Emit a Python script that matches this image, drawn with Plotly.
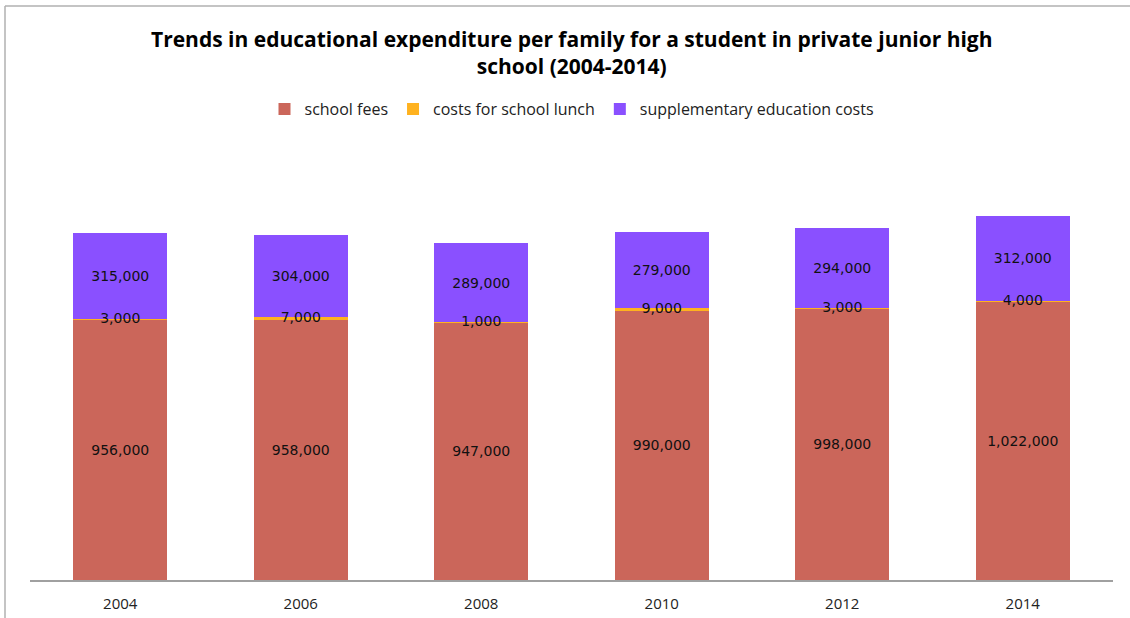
import plotly.graph_objects as go

# Survey years and per-family expenditure (yen) by category
years = ["2004", "2006", "2008", "2010", "2012", "2014"]
school_fees = [956000, 958000, 947000, 990000, 998000, 1022000]
school_lunch = [3000, 7000, 1000, 9000, 3000, 4000]
supplementary = [315000, 304000, 289000, 279000, 294000, 312000]

label_font = dict(family="DejaVu Sans", size=14, color="#111111")

fig = go.Figure()
fig.add_trace(go.Bar(
    x=years, y=school_fees, name="school fees",
    marker=dict(color="#CB665A", line=dict(width=0)),
    texttemplate="%{y:,.0f}", textposition="inside", insidetextanchor="middle",
    textfont=label_font,
))
fig.add_trace(go.Bar(
    x=years, y=school_lunch, name="costs for school lunch",
    marker=dict(color="#FFB21F", line=dict(width=0)),
    textposition="none",
))
fig.add_trace(go.Bar(
    x=years, y=supplementary, name="supplementary education costs",
    marker=dict(color="#8A50FF", line=dict(width=0)),
    texttemplate="%{y:,.0f}", textposition="inside", insidetextanchor="middle",
    textfont=label_font,
))

# lunch labels sit on top of the thin lunch segment, centred on it
lunch_mid = [f + l / 2 for f, l in zip(school_fees, school_lunch)]
fig.add_trace(go.Scatter(
    x=years, y=lunch_mid, mode="text",
    text=[f"{v:,}" for v in school_lunch],
    textposition="middle center", textfont=label_font,
    showlegend=False, hoverinfo="skip",
))

# plot area in pixels: x 30..1113, y 140..580
L, R, T, B = 30, 17, 140, 38
H = 618
ph = H - T - B
pw = 1130 - L - R

def px_x(x):
    return (x - L) / pw

def px_y(y):
    return (H - B - y) / ph

fig.update_layout(
    width=1130, height=618,
    margin=dict(l=L, r=R, t=T, b=B, autoexpand=False),
    paper_bgcolor="white", plot_bgcolor="white",
    barmode="stack", bargap=0.48,
    uniformtext=dict(minsize=14, mode="show"),
    title=dict(
        text="Trends in educational expenditure per family for a student in private junior high<br>school (2004-2014)",
        x=0.506, xanchor="center", y=1 - 47 / H, yanchor="middle",
        font=dict(family="Open Sans", size=21, color="#000000", weight="bold"),
    ),
    legend=dict(
        orientation="h", x=0.5, xanchor="center", y=px_y(109), yanchor="middle",
        traceorder="normal",
        font=dict(family="Open Sans", size=16, color="#222222"),
    ),
    xaxis=dict(
        showline=True, linecolor="#A0A0A0", linewidth=1.5,
        ticks="", showgrid=False, ticklabelstandoff=9, automargin=False,
        tickfont=dict(family="Open Sans", size=15, color="#222222"),
    ),
    yaxis=dict(visible=False, range=[0, 1617400], showgrid=False, automargin=False),
    shapes=[
        dict(type="line", xref="paper", yref="paper",
             x0=px_x(5), x1=px_x(1130), y0=px_y(6), y1=px_y(6),
             line=dict(color="#B0B0B0", width=1.5)),
        dict(type="line", xref="paper", yref="paper",
             x0=px_x(5), x1=px_x(5), y0=px_y(6), y1=px_y(618),
             line=dict(color="#B0B0B0", width=1.5)),
    ],
)

fig.write_html("out.html")
